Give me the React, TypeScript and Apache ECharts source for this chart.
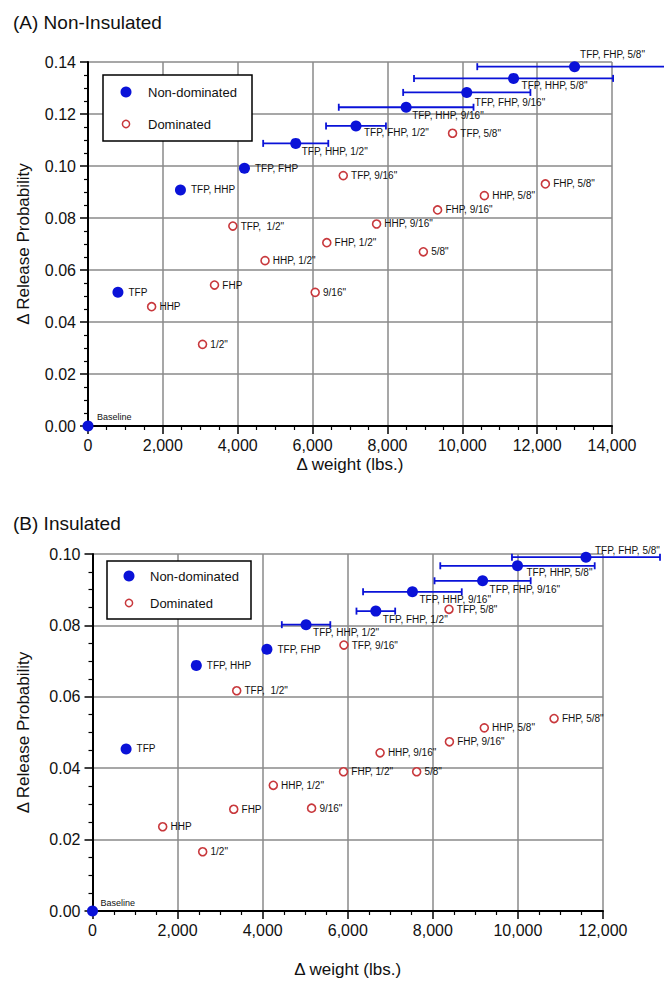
import React, { useEffect, useRef } from 'react';
import * as echarts from 'echarts';

// ---------- (A) Non-Insulated ----------
const topNDNames = ['Baseline', 'TFP', 'TFP, HHP', 'TFP, FHP', 'TFP, HHP, 1/2"', 'TFP, FHP, 1/2"', 'TFP, HHP, 9/16"', 'TFP, FHP, 9/16"', 'TFP, HHP, 5/8"', 'TFP, FHP, 5/8"'];
const topNDWeight = [0, 800, 2470, 4180, 5550, 7160, 8500, 10120, 11370, 13000];
const topNDProb = [0, 0.0514, 0.0908, 0.0991, 0.1087, 0.1154, 0.1226, 0.1283, 0.1337, 0.1382];
const topNDErr = [0, 0, 0, 0, 870, 800, 1800, 1700, 2660, 2600];

const topDNames = ['HHP', '1/2"', 'FHP', '9/16"', 'HHP, 1/2"', 'TFP,  1/2"', 'FHP, 1/2"', 'TFP, 9/16"', 'TFP, 5/8"', 'HHP, 9/16"', '5/8"', 'FHP, 9/16"', 'HHP, 5/8"', 'FHP, 5/8"'];
const topDWeight = [1700, 3060, 3380, 6070, 4730, 3870, 6380, 6820, 9740, 7710, 8960, 9340, 10590, 12220];
const topDProb = [0.0459, 0.0314, 0.0542, 0.0514, 0.0636, 0.0769, 0.0705, 0.0963, 0.1126, 0.0777, 0.067, 0.0831, 0.0886, 0.0931];

const topXTicks = { min: 0, max: 14000, interval: 2000 };
const topYTicks = { min: 0, max: 0.14, interval: 0.02 };

// ---------- (B) Insulated ----------
const botNDNames = ['Baseline', 'TFP', 'TFP, HHP', 'TFP, FHP', 'TFP, HHP, 1/2"', 'TFP, FHP, 1/2"', 'TFP, HHP, 9/16"', 'TFP, FHP, 9/16"', 'TFP, HHP, 5/8"', 'TFP, FHP, 5/8"'];
const botNDWeight = [0, 790, 2440, 4100, 5020, 6660, 7520, 9170, 9990, 11600];
const botNDProb = [0, 0.0454, 0.0688, 0.0733, 0.0802, 0.084, 0.0894, 0.0925, 0.0967, 0.0991];
const botNDErr = [0, 0, 0, 0, 570, 455, 1160, 1130, 1815, 1740];

const botDNames = ['HHP', '1/2"', 'FHP', 'HHP, 1/2"', '9/16"', 'FHP, 1/2"', 'TFP,  1/2"', 'TFP, 9/16"', 'TFP, 5/8"', 'HHP, 9/16"', '5/8"', 'FHP, 9/16"', 'HHP, 5/8"', 'FHP, 5/8"'];
const botDWeight = [1650, 2590, 3320, 4250, 5150, 5900, 3390, 5910, 8380, 6760, 7620, 8390, 9210, 10850];
const botDProb = [0.0236, 0.0166, 0.0285, 0.0352, 0.0288, 0.039, 0.0617, 0.0745, 0.0845, 0.0443, 0.039, 0.0474, 0.0513, 0.0539];

const botXTicks = { min: 0, max: 12000, interval: 2000 };
const botYTicks = { min: 0, max: 0.1, interval: 0.02 };

// ---------- layout / style (not data) ----------
const BLUE = '#0a12d8';
const RED = '#c8383c';
const GRIDC = '#8a8a8a';
const FONT = 'Liberation Sans, Arial, sans-serif';

const topLabelOffsets: Record<string, number[]> = {
  'Baseline': [-1.5, -9],
  'TFP, HHP, 1/2"': [-4.5, 8],
  'TFP, FHP, 1/2"': [-2.5, 7],
  'TFP, HHP, 9/16"': [-4.5, 8],
  'TFP, FHP, 9/16"': [-2.5, 10],
  'TFP, HHP, 5/8"': [-2.5, 7],
  'TFP, FHP, 5/8"': [-5, -12],
};
const botLabelOffsets: Record<string, number[]> = {
  'Baseline': [-2.5, -8],
  'TFP, HHP, 1/2"': [-3.5, 8],
  'TFP, FHP, 1/2"': [-3.5, 8],
  'TFP, HHP, 9/16"': [-3.5, 8],
  'TFP, FHP, 9/16"': [-3.5, 9],
  'TFP, HHP, 5/8"': [-1.5, 7],
  'TFP, FHP, 5/8"': [-1.5, -7],
};

function ndData(names: string[], xs: number[], ys: number[], offs: Record<string, number[]>) {
  return names.map((n, i) => ({
    name: n,
    value: [xs[i], ys[i]],
    label: {
      offset: offs[n] || [0, 0],
      fontSize: n === 'Baseline' ? 9 : 10,
    },
  }));
}
function dData(names: string[], xs: number[], ys: number[]) {
  return names.map((n, i) => ({ name: n, value: [xs[i], ys[i]] }));
}
function errData(xs: number[], ys: number[], errs: number[]) {
  const out: number[][] = [];
  xs.forEach((x, i) => {
    if (errs[i] > 0) out.push([x, ys[i], x - errs[i], x + errs[i]]);
  });
  return out;
}

const fmtComma = (v: number) => v.toLocaleString('en-US');

function xAxis(gridIndex: number, ticks: any, nameGap: number) {
  return {
    type: 'value',
    gridIndex,
    ...ticks,
    name: 'Δ weight (lbs.)',
    nameLocation: 'middle',
    nameGap,
    nameTextStyle: { fontSize: 17, color: '#111', fontFamily: FONT },
    axisLine: { show: true, onZero: false, lineStyle: { color: '#000', width: 2 } },
    axisTick: { show: true, length: 8, lineStyle: { color: '#000', width: 1.5 } },
    minorTick: { show: true, splitNumber: 4, length: 4, lineStyle: { color: '#000', width: 1.2 } },
    splitLine: { show: true, lineStyle: { color: GRIDC, width: 1.5 } },
    axisLabel: { formatter: fmtComma, fontSize: 16, color: '#111', margin: 11, fontFamily: FONT },
  };
}
function yAxis(gridIndex: number, ticks: any, nameGap: number) {
  return {
    type: 'value',
    gridIndex,
    ...ticks,
    name: 'Δ Release Probability',
    nameLocation: 'middle',
    nameRotate: 90,
    nameGap,
    nameTextStyle: { fontSize: 17, color: '#111', fontFamily: FONT },
    axisLine: { show: true, onZero: false, lineStyle: { color: '#000', width: 2 } },
    axisTick: { show: true, length: 8, lineStyle: { color: '#000', width: 1.5 } },
    minorTick: { show: true, splitNumber: 4, length: 4, lineStyle: { color: '#000', width: 1.2 } },
    splitLine: { show: true, lineStyle: { color: GRIDC, width: 1.5 } },
    axisLabel: { formatter: (v: number) => v.toFixed(2), fontSize: 16, color: '#111', margin: 12, fontFamily: FONT },
  };
}

const renderErr = (params: any, api: any) => {
  const y = api.value(1);
  const a = api.coord([api.value(2), y]);
  const b = api.coord([api.value(3), y]);
  const h = 3.5;
  const style = { stroke: BLUE, lineWidth: 1.8 };
  return {
    type: 'group',
    children: [
      { type: 'line', shape: { x1: a[0], y1: a[1], x2: b[0], y2: b[1] }, style },
      { type: 'line', shape: { x1: a[0], y1: a[1] - h, x2: a[0], y2: a[1] + h }, style },
      { type: 'line', shape: { x1: b[0], y1: b[1] - h, x2: b[0], y2: b[1] + h }, style },
    ],
  };
};

function seriesFor(idx: number, ndN: string[], ndX: number[], ndY: number[], ndE: number[], offs: Record<string, number[]>, dN: string[], dX: number[], dY: number[]) {
  return [
    {
      type: 'custom',
      name: 'Error',
      xAxisIndex: idx,
      yAxisIndex: idx,
      clip: false,
      renderItem: renderErr,
      encode: { x: [0, 2, 3], y: 1 },
      data: errData(ndX, ndY, ndE),
      z: 2,
    },
    {
      type: 'scatter',
      name: 'Dominated',
      xAxisIndex: idx,
      yAxisIndex: idx,
      clip: false,
      symbol: 'circle',
      symbolSize: 8,
      itemStyle: { color: '#fff', borderColor: RED, borderWidth: 1.6, opacity: 1 },
      label: {
        show: true,
        position: 'right',
        distance: 3,
        formatter: '{b}',
        fontSize: 10,
        color: '#111',
        fontFamily: FONT,
      },
      data: dData(dN, dX, dY),
      z: 3,
    },
    {
      type: 'scatter',
      name: 'Non-dominated',
      xAxisIndex: idx,
      yAxisIndex: idx,
      clip: false,
      symbol: 'circle',
      symbolSize: 11,
      itemStyle: { color: BLUE, opacity: 1 },
      label: {
        show: true,
        position: 'right',
        distance: 5,
        formatter: '{b}',
        fontSize: 10,
        color: '#111',
        fontFamily: FONT,
      },
      data: ndData(ndN, ndX, ndY, offs),
      z: 4,
    },
  ];
}

function legendBox(x: number, y: number, w: number, h: number, cy1: number, cy2: number, cx: number, tx: number) {
  return [
    { type: 'rect', shape: { x, y, width: w, height: h }, style: { fill: '#fff', stroke: '#000', lineWidth: 1.5 }, z: 100 },
    { type: 'circle', shape: { cx, cy: cy1, r: 5.5 }, style: { fill: BLUE }, z: 101 },
    { type: 'circle', shape: { cx, cy: cy2, r: 3.6 }, style: { fill: '#fff', stroke: RED, lineWidth: 1.5 }, z: 101 },
    { type: 'text', x: tx, y: cy1, style: { text: 'Non-dominated', fontSize: 13, fill: '#111', fontFamily: FONT, verticalAlign: 'middle' }, z: 101 },
    { type: 'text', x: tx, y: cy2, style: { text: 'Dominated', fontSize: 13, fill: '#111', fontFamily: FONT, verticalAlign: 'middle' }, z: 101 },
  ];
}

const option: any = {
  animation: false,
  backgroundColor: '#fff',
  textStyle: { fontFamily: FONT },
  grid: [
    { left: 88, top: 62, width: 524, height: 364 },
    { left: 92.5, top: 554, width: 510.5, height: 357 },
  ],
  xAxis: [xAxis(0, topXTicks, 30), xAxis(1, botXTicks, 50)],
  yAxis: [yAxis(0, topYTicks, 56.5), yAxis(1, botYTicks, 61)],
  series: [
    ...seriesFor(0, topNDNames, topNDWeight, topNDProb, topNDErr, topLabelOffsets, topDNames, topDWeight, topDProb),
    ...seriesFor(1, botNDNames, botNDWeight, botNDProb, botNDErr, botLabelOffsets, botDNames, botDWeight, botDProb),
  ],
  graphic: [
    { type: 'text', x: 13, y: 22, style: { text: '(A) Non-Insulated', fontSize: 19, fill: '#111', fontFamily: FONT, verticalAlign: 'middle' } },
    { type: 'text', x: 13, y: 523, style: { text: '(B) Insulated', fontSize: 19, fill: '#111', fontFamily: FONT, verticalAlign: 'middle' } },
    ...legendBox(103, 75, 149, 66, 92, 124, 126, 148),
    ...legendBox(107, 561, 144, 58, 576, 603, 129, 150),
  ],
};

export default function App() {
  const ref = useRef<HTMLDivElement>(null);
  useEffect(() => {
    const chart = echarts.init(ref.current as HTMLDivElement, null, { renderer: 'svg' });
    chart.setOption(option);
    return () => chart.dispose();
  }, []);
  return (
    <div
      ref={ref}
      style={{ position: 'absolute', left: 0, top: 0, width: 664, height: 981, background: '#fff' }}
    />
  );
}
